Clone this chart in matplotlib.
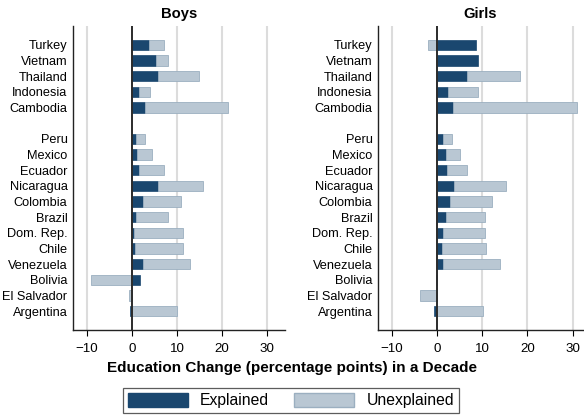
import matplotlib
matplotlib.use("Agg")
import matplotlib.pyplot as plt
from matplotlib.patches import Patch
import numpy as np

plt.rcParams["font.family"] = ["Liberation Sans", "DejaVu Sans"]

# countries, top to bottom (first five: Asia / Turkey, rest: Latin America)
countries = ["Turkey", "Vietnam", "Thailand", "Indonesia", "Cambodia",
             "Peru", "Mexico", "Ecuador", "Nicaragua", "Colombia", "Brazil",
             "Dom. Rep.", "Chile", "Venezuela", "Bolivia", "El Salvador", "Argentina"]
n_first_group = 5

# percentage points
boys_explained = [3.8, 5.3, 5.8, 1.5, 2.9,
                  1.0, 1.1, 1.5, 5.8, 2.4, 0.9, 0.4, 0.7, 2.4, 1.7, -0.1, -0.5]
boys_unexplained = [3.3, 2.6, 9.0, 2.4, 18.4,
                    1.8, 3.3, 5.6, 10.0, 8.6, 7.0, 11.0, 10.7, 10.4, -9.2, -0.5, 10.1]
girls_explained = [8.6, 9.1, 6.7, 2.5, 3.6,
                   1.4, 2.1, 2.3, 3.9, 3.0, 2.1, 1.4, 1.2, 1.4, 0.1, -0.1, -0.6]
girls_unexplained = [-2.0, 0.0, 11.6, 6.5, 27.4,
                     1.9, 3.0, 4.3, 11.3, 9.1, 8.5, 9.2, 9.7, 12.6, -0.1, -3.6, 10.1]

xticks = [-10, 0, 10, 20, 30]

NAVY = "#1a476f"
LIGHT = "#b9c7d3"
LIGHT_EDGE = "#9bafc0"
FS = 9.2

# y positions with a blank row between the two groups
ypos = np.array([i if i < n_first_group else i + 1 for i in range(len(countries))])

fig = plt.figure(figsize=(5.84, 4.15), dpi=100)


def panel(rect, xlim, explained, unexplained, title):
    ax = fig.add_axes(rect)
    explained = np.array(explained)
    unexplained = np.array(unexplained)

    # unexplained stacks on explained when same sign, otherwise starts at zero
    same_sign = np.sign(explained) == np.sign(unexplained)
    left = np.where(same_sign, explained, 0.0)

    for g in [-10, 10, 20, 30]:
        ax.axvline(g, color="#dcdcdc", lw=1.5, zorder=0)

    ax.barh(ypos, explained, height=0.65, color=NAVY, edgecolor=NAVY,
            linewidth=0.5, zorder=2)
    ax.barh(ypos, unexplained, left=left, height=0.65, color=LIGHT,
            edgecolor=LIGHT_EDGE, linewidth=0.6, zorder=2)
    ax.axvline(0, color="#2b2b2b", lw=1.4, zorder=3)

    ax.set_xlim(*xlim)
    ax.set_ylim(ypos[-1] + 1.2, -1.2)
    ax.set_yticks(ypos)
    ax.set_yticklabels(countries, fontsize=FS)
    ax.tick_params(axis="y", length=0, pad=4)
    ax.set_xticks(xticks)
    ax.set_xticklabels([str(t).replace("-", "\u2212") for t in xticks], fontsize=9.6)
    ax.tick_params(axis="x", length=4, width=0.8, pad=5)
    for s in ["top", "right"]:
        ax.spines[s].set_visible(False)
    for s in ["left", "bottom"]:
        ax.spines[s].set_linewidth(1.0)
        ax.spines[s].set_color("#222222")
    ax.set_title(title, fontsize=10.6, fontweight="bold", pad=6)
    return ax


panel([0.125, 0.2048, 0.363, 0.7325], (-13.1, 34.0),
      boys_explained, boys_unexplained, "Boys")
panel([0.6473, 0.2048, 0.351, 0.7325], (-13.0, 32.3),
      girls_explained, girls_unexplained, "Girls")

fig.text(0.5, 1 - 368 / 415, "Education Change (percentage points) in a Decade",
         ha="center", va="center", fontsize=11.0, fontweight="bold")

handles = [Patch(facecolor=NAVY, edgecolor=NAVY, label="Explained"),
           Patch(facecolor=LIGHT, edgecolor=LIGHT_EDGE, label="Unexplained")]
leg = fig.legend(handles=handles, loc="upper center", ncol=2,
                 bbox_to_anchor=(291 / 584, 1 - 388 / 415), fontsize=11.3,
                 frameon=True, fancybox=False, handlelength=3.8, handleheight=1.0,
                 columnspacing=1.6, borderpad=0.3, handletextpad=0.8,
                 borderaxespad=0.0)
leg.get_frame().set_edgecolor("#333333")
leg.get_frame().set_linewidth(0.9)

fig.savefig("out.png", dpi=100)
